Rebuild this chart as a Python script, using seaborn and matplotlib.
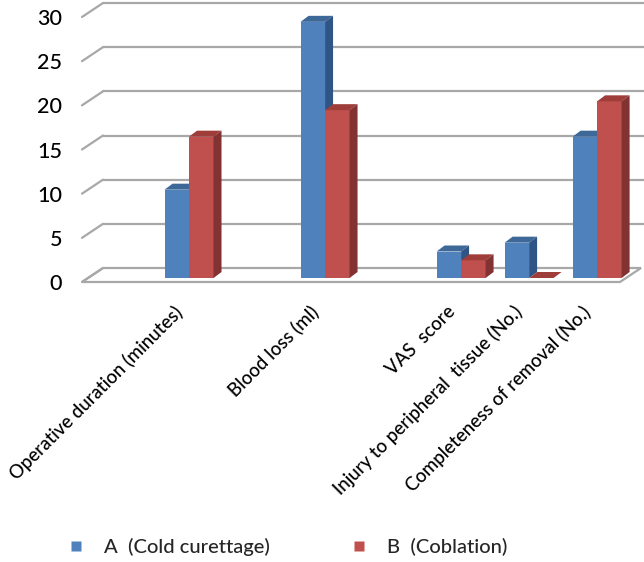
import matplotlib
matplotlib.use("Agg")
import matplotlib.pyplot as plt
from matplotlib.transforms import ScaledTranslation, IdentityTransform
from matplotlib.patches import Polygon
from matplotlib.lines import Line2D
import numpy as np
import pandas as pd
import seaborn as sns

# ---- data ----
categories = ["Operative duration (minutes)", "Blood loss (ml)", "VAS  score",
              "Injury to peripheral  tissue (No.)", "Completeness of removal (No.)"]
groups = ["A  (Cold curettage)", "B  (Coblation)"]
values_a = [10, 29, 3, 4, 16]
values_b = [16, 19, 2, 0, 20]
y_ticks = [0, 5, 10, 15, 20, 25, 30]

df = pd.DataFrame({
    "Measure": categories * 2,
    "Group": [groups[0]] * len(categories) + [groups[1]] * len(categories),
    "Value": values_a + values_b,
})

sns.set_theme(style="white")
plt.rcParams["font.family"] = ["Lato", "DejaVu Sans"]
plt.rcParams["font.weight"] = "medium"
FS = 14

front_cols = {"A": "#4F81BD", "B": "#C0504D"}
top_cols = {"A": "#3D6898", "B": "#9E3D3A"}
side_cols = {"A": "#2E5585", "B": "#823230"}

fig = plt.figure(figsize=(6.44, 5.62), dpi=100)
ax = fig.add_axes([87 / 644, 1 - 278 / 562, 538 / 644, 265 / 562])

# category slots (two empty slots, as in the original sheet)
order = [categories[0], " ", categories[1], "  ", categories[2], categories[3], categories[4]]
sns.barplot(data=df, x="Measure", y="Value", hue="Group", order=order, hue_order=groups,
            palette=[front_cols["A"], front_cols["B"]], width=0.72, gap=0, saturation=1,
            linewidth=0, ax=ax, legend=False)

ax.set_xlim(-1.5, 6.41)
ax.set_ylim(0, 30)
for s in ax.spines.values():
    s.set_visible(False)
ax.set_xlabel("")
ax.set_ylabel("")

ax.set_yticks(y_ticks)
ax.set_yticklabels([str(v) for v in y_ticks], fontsize=FS + 1.5, color="black")
ax.tick_params(axis="y", length=0, pad=18)
for lab in ax.get_yticklabels():
    lab.set_transform(lab.get_transform() + ScaledTranslation(0, -4 / 100, fig.dpi_scale_trans))

ax.set_xticks([order.index(c) for c in categories])
ax.set_xticklabels(categories, rotation=45, ha="right", va="top", fontsize=FS - 0.6, color="black")
ax.tick_params(axis="x", length=0, pad=18)
for lab in ax.get_xticklabels():
    lab.set_transform(lab.get_transform() + ScaledTranslation(-3 / 100, 0, fig.dpi_scale_trans))

fig.canvas.draw()

ytr = ax.get_yaxis_transform()
front_off = np.array([-5, -4])
back_off = np.array([16, 10])
grid_col = "#A8A8A8"
ID = IdentityTransform()

def disp(xa, yd, off):
    return ytr.transform((xa, yd)) + off

# floor
fl = [disp(0, 0, front_off), disp(1, 0, front_off), disp(1, 0, back_off), disp(0, 0, back_off)]
ax.add_patch(Polygon(fl, closed=True, facecolor="white", edgecolor=grid_col, lw=1.6,
                     transform=ID, zorder=1, clip_on=False))
# back wall gridlines + stubs
for v in y_ticks:
    a = disp(0, v, front_off)
    b = disp(0, v, back_off)
    if v > 0:
        c = disp(1, v, back_off) + np.array([40, 0])
        ax.add_line(Line2D([b[0], c[0]], [b[1], c[1]], color=grid_col, lw=1.6,
                           transform=ID, zorder=1, clip_on=False))
    ax.add_line(Line2D([a[0], b[0]], [a[1], b[1]], color=grid_col, lw=1.6,
                       transform=ID, zorder=1, clip_on=False))

# 3D faces for bars
dx, dy = 8, 6
bars = list(ax.patches)
for p in bars:
    if not hasattr(p, "get_width"):
        continue
    fc = matplotlib.colors.to_hex(p.get_facecolor())
    if fc.lower() not in (front_cols["A"].lower(), front_cols["B"].lower()):
        continue
    g = "A" if fc.lower() == front_cols["A"].lower() else "B"
    gi = 0 if g == "A" else 1
    x0, w, h = p.get_x(), p.get_width(), p.get_height()
    (xl, yb) = ax.transData.transform((x0, 0))
    (xr, yt) = ax.transData.transform((x0 + w, h))
    p.set_zorder(3 + gi * 0.2)
    p.set_clip_on(False)
    top = [(xl, yt), (xr, yt), (xr + dx, yt + dy), (xl + dx, yt + dy)]
    side = [(xr, yb), (xr, yt), (xr + dx, yt + dy), (xr + dx, yb + dy)]
    for poly, col in ((top, top_cols[g]), (side, side_cols[g])):
        ax.add_patch(Polygon(poly, closed=True, facecolor=col, edgecolor="none",
                             transform=ID, zorder=3.1 + gi * 0.2, clip_on=False))

# legend
handles = [Line2D([], [], marker="s", linestyle="none", markersize=7.5,
                  markerfacecolor=front_cols[k], markeredgecolor="none") for k in ("A", "B")]
fig.legend(handles, groups, loc="center left", bbox_to_anchor=(58 / 644, 1 - 547 / 562),
           ncol=2, frameon=False, fontsize=FS + 0.5, handlelength=0.8, handletextpad=1.0,
           columnspacing=4.0, borderpad=0)

fig.savefig("out.png", dpi=100)
